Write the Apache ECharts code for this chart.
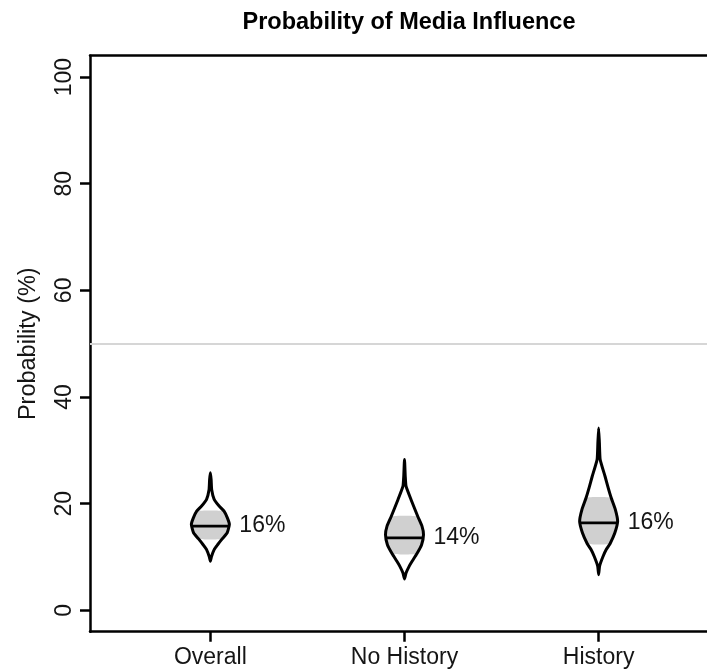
<!DOCTYPE html>
<html><head><meta charset="utf-8">
<script src="https://cdn.jsdelivr.net/npm/echarts@6/dist/echarts.min.js"></script>
<style>html,body{margin:0;padding:0;background:#fff}#c{width:707px;height:671px}</style>
</head><body><div id="c"></div>
<script>
// ---- data ----
const categories = ['Overall', 'No History', 'History'];
const medians = [15.8, 13.6, 16.4];
const medianLabels = ['16%', '14%', '16%'];
const intervalLow = [13.4, 10.6, 12.5];
const intervalHigh = [18.6, 17.6, 21.1];
// violin outlines: probability values (top to bottom) and relative half-widths (density)
const overallY = [25.8, 24.5, 22.6, 20.8, 19.6, 18.6, 17.3, 16.1, 14.5, 13.4, 12.3, 11.4, 10.1, 9.2];
const overallW = [0, 0.04, 0.07, 0.2, 0.45, 0.72, 0.9, 1.0, 0.88, 0.62, 0.38, 0.2, 0.06, 0];
const noHistoryY = [28.3, 25.1, 23.3, 20.8, 17.6, 15.8, 14.2, 12.3, 10.6, 9.2, 8.3, 7.0, 5.9];
const noHistoryW = [0, 0.04, 0.08, 0.34, 0.7, 0.92, 1.0, 0.9, 0.65, 0.4, 0.25, 0.08, 0];
const historyY = [34.2, 31.4, 28.3, 25.1, 23.0, 21.1, 18.9, 16.7, 14.5, 12.5, 11.4, 10.1, 8.3, 6.7];
const historyW = [0, 0.04, 0.08, 0.34, 0.5, 0.66, 0.88, 1.0, 0.85, 0.6, 0.4, 0.23, 0.05, 0];
const yTicks = [0, 20, 40, 60, 80, 100];
const referenceLine = 50;
const titleText = 'Probability of Media Influence';
const yName = 'Probability (%)';

const profilesY = [overallY, noHistoryY, historyY];
const profilesW = [overallW, noHistoryW, historyW];

const FONT = '"Liberation Sans", Arial, Helvetica, sans-serif';
const HALF = 19; // px max half width
const TXT = '#151515';

function halfAt(ys, ws, v) {
  for (let k = 0; k < ys.length - 1; k++) {
    const a = ys[k], b = ys[k + 1];
    if (v <= a && v >= b) { const t = (a - v) / (a - b); return ws[k] + (ws[k + 1] - ws[k]) * t; }
  }
  return 0;
}

const chart = echarts.init(document.getElementById('c'), null, { renderer: 'canvas' });
const axisLineStyle = { color: '#000', width: 2.5 };

chart.setOption({
  animation: false,
  backgroundColor: '#fff',
  title: {
    text: titleText, left: 404, top: 6, textAlign: 'center',
    textStyle: { fontSize: 23.5, fontWeight: 'bold', fontFamily: FONT, color: '#000' }
  },
  grid: { left: 90, top: 55.7, width: 629, height: 576, containLabel: false, outerBoundsMode: 'none' },
  xAxis: [{
    type: 'value', min: 0.38, max: 3.62, position: 'bottom',
    axisLine: { show: true, onZero: false, lineStyle: axisLineStyle },
    axisTick: { show: true, length: 10, lineStyle: axisLineStyle, customValues: [1, 2, 3] },
    axisLabel: {
      show: true, customValues: [1, 2, 3], margin: 14, fontSize: 23, fontFamily: FONT, color: TXT,
      formatter: v => categories[Math.round(v) - 1]
    },
    splitLine: { show: false }
  }, {
    type: 'value', min: 0.38, max: 3.62, position: 'top',
    axisLine: { show: true, onZero: false, lineStyle: axisLineStyle },
    axisTick: { show: false }, axisLabel: { show: false }, splitLine: { show: false }
  }],
  yAxis: {
    type: 'value', min: -4, max: 104,
    axisLine: { show: true, onZero: false, lineStyle: axisLineStyle },
    axisTick: { show: true, length: 10, lineStyle: axisLineStyle, customValues: yTicks },
    axisLabel: { show: true, rotate: 90, margin: 14, customValues: yTicks, fontSize: 23, fontFamily: FONT, color: TXT },
    splitLine: { show: false },
    name: yName, nameLocation: 'middle', nameGap: 49,
    nameTextStyle: { fontSize: 23.5, fontFamily: FONT, color: TXT }
  },
  series: [{
    type: 'custom',
    data: categories.map((c, i) => [i + 1, medians[i]]),
    renderItem: function (params, api) {
      const i = params.dataIndex;
      const x = api.value(0);
      const ys = profilesY[i], ws = profilesW[i];
      const pt = (v, s) => { const c = api.coord([x, v]); return [c[0] + s, c[1]]; };
      const right = ys.map((v, k) => pt(v, ws[k] * HALF));
      const left = [];
      for (let k = ys.length - 2; k >= 1; k--) left.push(pt(ys[k], -ws[k] * HALF));
      const outline = right.concat(left);
      const lo = intervalLow[i], hi = intervalHigh[i];
      const gy = [hi], gw = [halfAt(ys, ws, hi)];
      ys.forEach((v, k) => { if (v < hi && v > lo) { gy.push(v); gw.push(ws[k]); } });
      gy.push(lo); gw.push(halfAt(ys, ws, lo));
      const gr = gy.map((v, k) => pt(v, gw[k] * HALF));
      const gl = gy.map((v, k) => pt(v, -gw[k] * HALF)).reverse();
      const m = medians[i];
      const mw = halfAt(ys, ws, m) * HALF;
      const mc = api.coord([x, m]);
      return {
        type: 'group', children: [
          { type: 'polygon', shape: { points: gr.concat(gl), smooth: 0.15 }, style: { fill: '#d0d0d0', stroke: null } },
          { type: 'polygon', shape: { points: outline, smooth: 0.15 }, style: { fill: 'rgba(0,0,0,0)', stroke: '#000', lineWidth: 3, lineJoin: 'round' } },
          { type: 'line', shape: { x1: mc[0] - mw, y1: mc[1], x2: mc[0] + mw, y2: mc[1] }, style: { stroke: '#000', lineWidth: 2.8 } },
          { type: 'text', x: mc[0] + 29, y: mc[1], style: { text: medianLabels[i], font: '23px ' + FONT, fill: TXT, align: 'left', verticalAlign: 'middle' } }
        ]
      };
    },
    markLine: {
      silent: true, symbol: 'none', label: { show: false },
      lineStyle: { color: '#d6d6d6', width: 2, type: 'solid' },
      data: [{ yAxis: referenceLine }]
    }
  }]
});
</script>
</body></html>
